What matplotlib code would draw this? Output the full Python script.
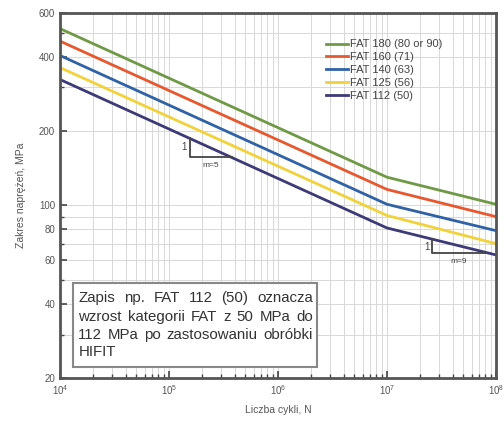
import numpy as np
import matplotlib.pyplot as plt
from matplotlib.patches import Rectangle
from matplotlib.ticker import FixedLocator, NullFormatter, FixedFormatter, LogLocator

plt.rcParams['font.family'] = ['Liberation Sans', 'DejaVu Sans']

# S-N curves: stress range read at N = 1e4, knee 1e7, 1e8
cycles = [1e4, 1e7, 1e8]
fat_180 = [519, 130, 101]
fat_160 = [462, 116, 90]
fat_140 = [404, 101, 79]
fat_125 = [361, 91, 70]
fat_112 = [323, 81, 63]

labels = ['FAT 180 (80 or 90)', 'FAT 160 (71)', 'FAT 140 (63)', 'FAT 125 (56)', 'FAT 112 (50)']
colors = ['#6f9a45', '#e8582e', '#2f62a6', '#f2d23a', '#3d3a78']

y_major = [20, 40, 60, 80, 100, 200, 400, 600]
y_minor = [30, 50, 70, 90, 300, 500]

note_lines = ['Zapis np. FAT 112 (50) oznacza',
              'wzrost kategorii FAT z 50 MPa do',
              '112 MPa po zastosowaniu obróbki',
              'HIFIT']

fig = plt.figure(figsize=(5.04, 4.21), dpi=100)
ax = fig.add_axes([0.119, 0.102, 0.865, 0.867])

for vals, lab, c in zip([fat_180, fat_160, fat_140, fat_125, fat_112], labels, colors):
    ax.plot(cycles, vals, color=c, lw=2, label=lab)

ax.set_xscale('log')
ax.set_yscale('log')
ax.set_xlim(1e4, 1e8)
ax.set_ylim(20, 600)

ax.yaxis.set_major_locator(FixedLocator(y_major))
ax.yaxis.set_major_formatter(FixedFormatter([str(v) for v in y_major]))
ax.yaxis.set_minor_locator(FixedLocator(y_minor))
ax.yaxis.set_minor_formatter(NullFormatter())
ax.xaxis.set_minor_locator(LogLocator(base=10, subs=np.arange(2, 10), numticks=20))
ax.xaxis.set_minor_formatter(NullFormatter())

ax.grid(True, which='both', color='#d8d8d8', lw=0.7)
ax.tick_params(which='both', direction='in', colors='#444444', labelcolor='#555555', labelsize=7)
ax.tick_params(which='major', length=5, width=1.2)
ax.tick_params(which='minor', length=3, width=1)
for s in ax.spines.values():
    s.set_color('#555555')
    s.set_linewidth(2)

ax.set_xlabel('Liczba cykli, N', fontsize=7.5, color='#555555', labelpad=6)
ax.set_ylabel('Zakres naprężeń, MPa', fontsize=7.5, color='#555555', labelpad=9)

ax.legend(loc='upper left', bbox_to_anchor=(0.6, 0.94), frameon=False, fontsize=8,
          handlelength=2.0, handletextpad=0.2, labelspacing=0.25, labelcolor='#444444',
          borderaxespad=0)

# slope triangles along FAT 112 line
x1, x2 = 1.55e5, 3.8e5
ax.plot([x1, x1, x2], [187, 157, 157], color='#444444', lw=1.3)
ax.text(x1 * 0.93, 172, '1', fontsize=7, color='#444444', ha='right', va='center')
ax.text((x1 * x2) ** 0.5, 150, 'm=5', fontsize=6, color='#444444', ha='center', va='top')
x3, x4 = 2.6e7, 7.9e7
ax.plot([x3, x3, x4], [72.8, 64, 64], color='#444444', lw=1.3)
ax.text(x3 * 0.95, 68, '1', fontsize=7, color='#444444', ha='right', va='center')
ax.text((x3 * x4) ** 0.5, 61.5, 'm=9', fontsize=6, color='#444444', ha='center', va='top')

# note box with justified text
ax.add_patch(Rectangle((0.030, 0.030), 0.559, 0.230, transform=ax.transAxes,
                       fc='white', ec='#888888', lw=1.5, zorder=5))
left, right = 0.042, 0.580
tops = [0.218, 0.168, 0.119, 0.071]
fig.canvas.draw()
rend = fig.canvas.get_renderer()
ax_w = ax.get_window_extent().width
for i, (line, yy) in enumerate(zip(note_lines, tops)):
    words = line.split(' ')
    objs = [ax.text(left, yy, w, transform=ax.transAxes, fontsize=10.8, color='#333333',
                    ha='left', va='center', zorder=6) for w in words]
    if i == len(note_lines) - 1 or len(words) == 1:
        continue
    widths = [o.get_window_extent(rend).width / ax_w for o in objs]
    gap = (right - left - sum(widths)) / (len(words) - 1)
    x = left
    for o, w in zip(objs, widths):
        o.set_x(x)
        x += w + gap

fig.savefig('out.png', dpi=100)
